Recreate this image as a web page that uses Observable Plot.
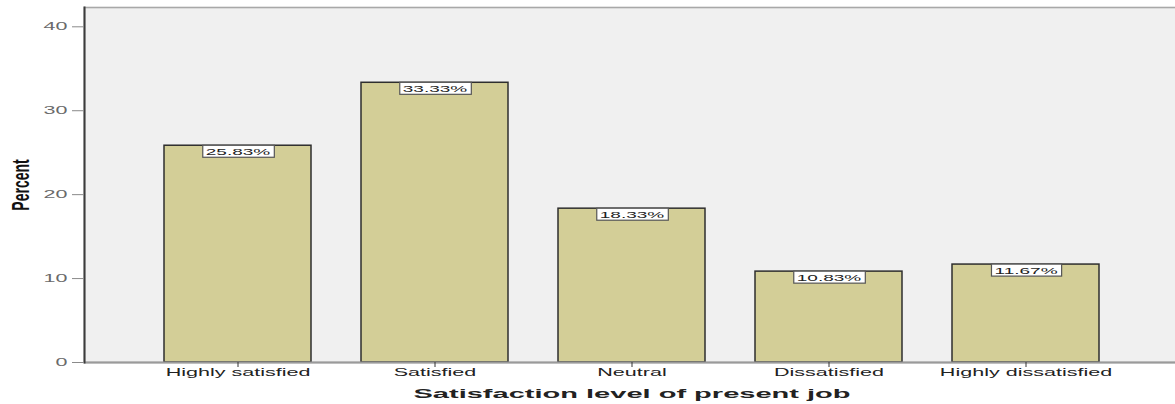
<!DOCTYPE html>
<html>
<head>
<meta charset="utf-8">
<script src="https://cdn.jsdelivr.net/npm/d3@7"></script>
<script src="https://cdn.jsdelivr.net/npm/@observablehq/plot@0.6"></script>
<style>
  html, body { margin: 0; padding: 0; background: #ffffff; }
  #chart svg { display: block; }
</style>
</head>
<body>
<div id="chart"></div>
<script>
// Satisfaction level of present job — share of respondents per category
const categories = ["Highly satisfied", "Satisfied", "Neutral", "Dissatisfied", "Highly dissatisfied"];
const percents = [25.83, 33.33, 18.33, 10.83, 11.67];
const valueLabels = percents.map(p => p.toFixed(2) + "%");
const yTicks = [0, 10, 20, 30, 40];
const xTitle = "Satisfaction level of present job";
const yTitle = "Percent";

const rows = categories.map((c, i) => ({category: c, percent: percents[i], label: valueLabels[i]}));

// horizontal stretch applied to the text, per kind of text
const STRETCH = {tick: 2.05, value: 2.0, xTitle: 2.15, yTitle: 1.7};

const chart = Plot.plot({
  width: 1175,
  height: 404,
  marginTop: 7,
  marginLeft: 84,
  marginRight: -4,
  marginBottom: 42,
  style: {background: "#ffffff", fontFamily: "'Liberation Sans', Arial, sans-serif", overflow: "visible"},
  x: {domain: categories, paddingInner: 0.254, paddingOuter: 0.406},
  y: {domain: [0, 42.3]},
  marks: [
    Plot.frame({fill: "#f0f0f0", stroke: "#a8a8a8", strokeWidth: 1.6}),
    Plot.barY(rows, {x: "category", y: "percent", fill: "#d3ce97", stroke: "#2e2e2e", strokeWidth: 1.5}),
    Plot.ruleY([0], {stroke: "#9a9a9a", strokeWidth: 2}),
    Plot.frame({anchor: "left", stroke: "#3c3c3c", strokeWidth: 2}),
    Plot.axisY({ticks: yTicks, tickSize: 12, tickPadding: 5, label: null, stroke: "#8a8a8a", fill: "#6a6a6a", fontSize: 10.5, tickFormat: d => String(d), className: "tick-text"}),
    Plot.axisX({tickSize: 5, tickPadding: 1, label: null, stroke: "#333", fill: "#222", fontSize: 10.5, className: "tick-text"}),
    Plot.text(rows, {x: "category", y: "percent", text: "label", dy: 6, fontSize: 9.5, fill: "#222", className: "value-label"}),
    Plot.text([xTitle], {frameAnchor: "bottom", dy: 31, fontSize: 13.5, fontWeight: "bold", fill: "#222", lineAnchor: "middle", className: "x-title"}),
    Plot.text([yTitle], {frameAnchor: "left", dx: -63, rotate: -90, textAnchor: "middle", fontSize: 14, fontWeight: "bold", fill: "#111", className: "y-title"})
  ]
});

document.getElementById("chart").appendChild(chart);

// widen the glyphs of the text elements
function kindOf(t) {
  const g = t.closest("g.y-title, g.x-title, g.value-label");
  if (!g) return "tick";
  if (g.classList.contains("y-title")) return "yTitle";
  if (g.classList.contains("x-title")) return "xTitle";
  return "value";
}
chart.querySelectorAll("text").forEach(t => {
  const kind = kindOf(t);
  if (kind === "yTitle") {
    const tr = t.getAttribute("transform") || "";
    t.setAttribute("transform", tr + " scale(1," + STRETCH.yTitle + ")");
  } else {
    const len = t.getComputedTextLength();
    t.setAttribute("textLength", (len * STRETCH[kind]).toFixed(2));
    t.setAttribute("lengthAdjust", "spacingAndGlyphs");
  }
});

// boxed value labels sitting at the top of each bar
chart.querySelectorAll("g.value-label text").forEach(t => {
  const b = t.getBBox();
  const r = document.createElementNS("http://www.w3.org/2000/svg", "rect");
  r.setAttribute("x", b.x - 3);
  r.setAttribute("y", b.y - 0.5);
  r.setAttribute("width", b.width + 6);
  r.setAttribute("height", b.height + 1);
  r.setAttribute("fill", "#ffffff");
  r.setAttribute("stroke", "#555");
  r.setAttribute("stroke-width", 1.2);
  const tr = t.getAttribute("transform");
  if (tr) r.setAttribute("transform", tr);
  t.parentNode.insertBefore(r, t);
});
</script>
</body>
</html>
